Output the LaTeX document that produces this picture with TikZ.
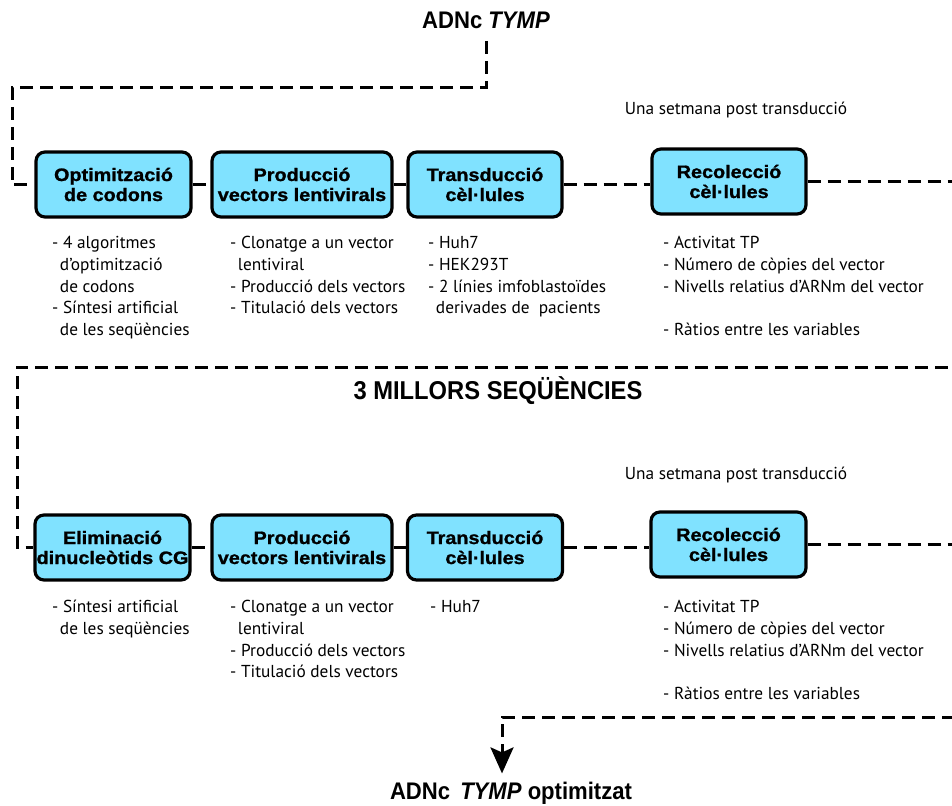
\documentclass[tikz,border=0pt]{standalone}
\usepackage{fontspec}
\usetikzlibrary{arrows.meta}
\setmainfont{PT Sans}
\newfontfamily\boxfont{Liberation Sans}[FakeStretch=1.1,FakeBold=1.2]
\newfontfamily\headfont{Liberation Sans}[FakeStretch=0.92]
\definecolor{boxcyan}{RGB}{128,226,255}
\newcommand\lind{\hspace*{0.45em}}
\begin{document}
\begin{tikzpicture}[x=1pt,y=-1pt,
  stage/.style={draw=black, line width=3.2pt, rounded corners=9pt, fill=boxcyan,
    minimum width=#1, minimum height=65pt, inner sep=0pt, align=center,
    font=\boxfont\bfseries\fontsize{18}{20}\selectfont},
  conn/.style={line width=3pt, dash pattern=on 13pt off 7pt},
  list/.style={anchor=north west, inner sep=0pt, align=left,
    font=\fontsize{17.3}{21.7}\selectfont},
  note/.style={font=\fontsize{17.3}{20}\selectfont},
  head/.style={anchor=base, inner sep=2pt, font=\headfont\bfseries\fontsize{24}{28}\selectfont}]
\clip (0,0) rectangle (952,805);

% titles
\node[head] (top) at (486,28.5) {ADNc \textit{TYMP}};
\node[head, font=\headfont\bfseries\fontsize{25.8}{28}\selectfont] (mid) at (498,399.5) {3 MILLORS SEQÜÈNCIES};
\node[head] (out) at (511,799) {ADNc\, \textit{TYMP} optimitzat};

% notes
\node[note] (n1) at (736,110) {Una setmana post transducció};
\node[note] (n2) at (736,475) {Una setmana post transducció};

% row 1 boxes
\node[stage=155pt] (b1) at (113.5,184.5) {Optimització\\de codons};
\node[stage=180pt] (b2) at (302,184.5) {Producció\\vectors lentivirals};
\node[stage=154pt] (b3) at (485,184.5) {Transducció\\cèl·lules};
\node[stage=154pt] (b4) at (729,181.5) {Recolecció\\cèl·lules};

% row 2 boxes
\node[stage=155pt] (b5) at (112.5,547.5) {Eliminació\\dinucleòtids CG};
\node[stage=180pt] (b6) at (302,547.5) {Producció\\vectors lentivirals};
\node[stage=155pt] (b7) at (485,547.5) {Transducció\\cèl·lules};
\node[stage=155pt] (b8) at (728.5,544.5) {Recolecció\\cèl·lules};

% row 1 lists
\node[list] (l1) at (52,235.5) {\rule{0pt}{13pt}- 4 algoritmes\\\lind d’optimització\\\lind de codons\\- Síntesi artificial\\\lind de les seqüències};
\node[list] (l2) at (230,235.5) {\rule{0pt}{13pt}- Clonatge a un vector\\\lind lentiviral\\- Producció dels vectors\\- Titulació dels vectors};
\node[list] (l3) at (428,235.5) {\rule{0pt}{13pt}- Huh7\\- HEK293T\\- 2 línies imfoblastoïdes\\\lind derivades de\ \ pacients};
\node[list] (l4) at (663,235.5) {\rule{0pt}{13pt}- Activitat TP\\- Número de còpies del vector\\- Nivells relatius d’ARNm del vector\\[21.7pt]- Ràtios entre les variables};

% row 2 lists
\node[list] (l5) at (52,599.5) {\rule{0pt}{13pt}- Síntesi artificial\\\lind de les seqüències};
\node[list] (l6) at (230,599.5) {\rule{0pt}{13pt}- Clonatge a un vector\\\lind lentiviral\\- Producció dels vectors\\- Titulació dels vectors};
\node[list] (l7) at (430,599.5) {\rule{0pt}{13pt}- Huh7};
\node[list] (l8) at (663,599.5) {\rule{0pt}{13pt}- Activitat TP\\- Número de còpies del vector\\- Nivells relatius d’ARNm del vector\\[21.7pt]- Ràtios entre les variables};

% connectors
\coordinate (c1) at (12,88);
\coordinate (r1) at (975,367);
\coordinate (l2c) at (17,367);
\coordinate (r2) at (975,717);
\coordinate (c3) at (502,717);

\draw[conn, shorten <=10pt] (top.south) |- (c1) |- (b1.west);
\draw[conn] (b1.east) -- (b2.west);
\draw[conn] (b2.east) -- (b3.west);
\draw[conn] (b3.east) -- (b3.east -| b4.west);
\draw[conn] (b4.east) -| (r1) -- (l2c) |- (b5.west);
\draw[conn] (b5.east) -- (b6.west);
\draw[conn] (b6.east) -- (b7.west);
\draw[conn] (b7.east) -- (b7.east -| b8.west);
\draw[conn, -{Stealth[length=26pt,width=23pt,inset=5pt]}, shorten >=6pt] (b8.east) -| (r2) -- (c3) -- (c3 |- out.north);
\end{tikzpicture}
\end{document}
